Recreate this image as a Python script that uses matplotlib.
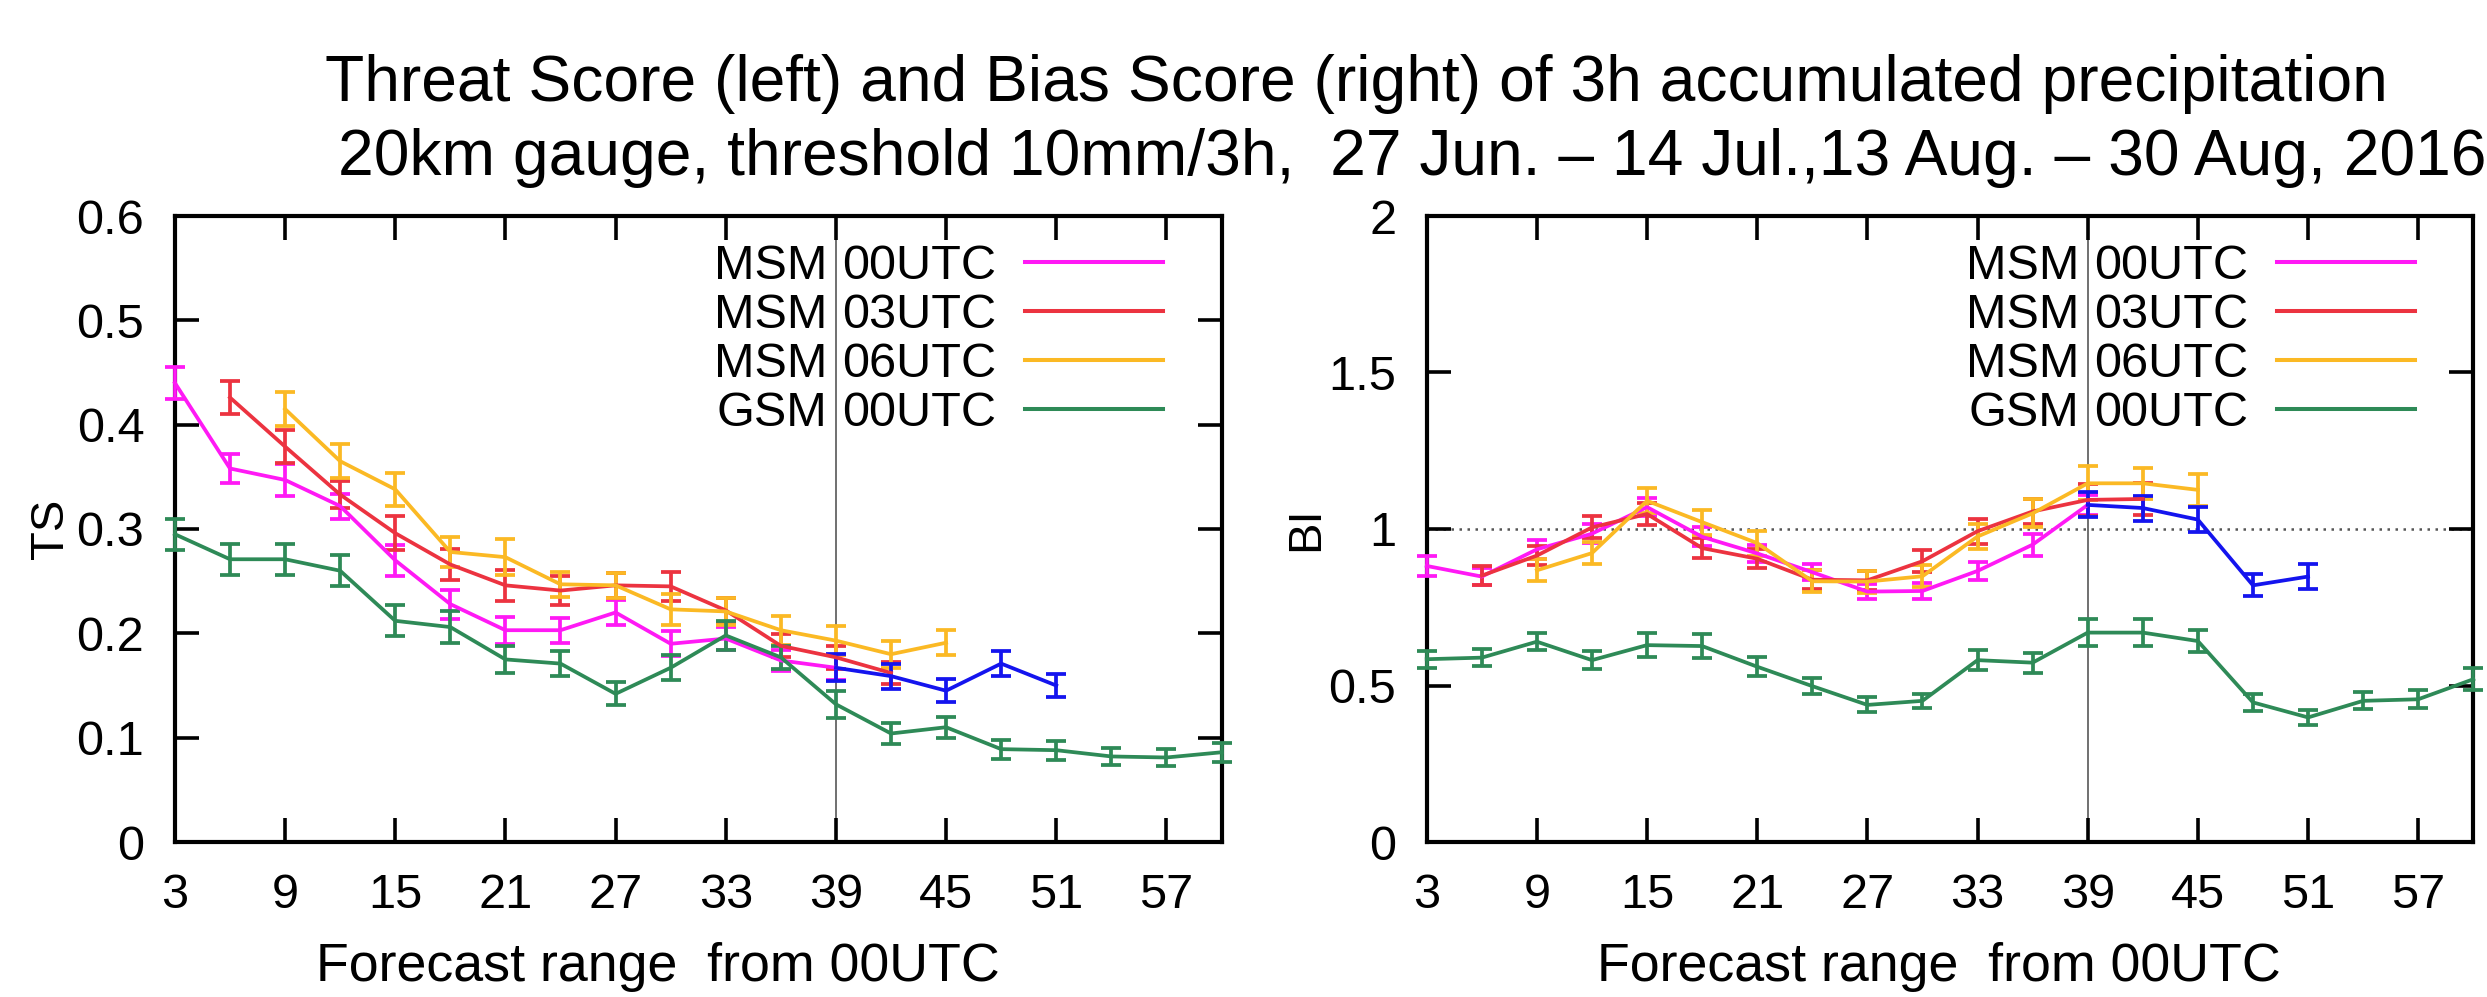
import matplotlib
matplotlib.use("Agg")
import matplotlib.pyplot as plt
import matplotlib.transforms as mtransforms

plt.rcParams['font.family'] = ['Liberation Sans', 'DejaVu Sans']

# ---------------- data ----------------
hours_msm00 = [3, 6, 9, 12, 15, 18, 21, 24, 27, 30, 33, 36, 39]
hours_msm03 = [6, 9, 12, 15, 18, 21, 24, 27, 30, 33, 36, 39, 42]
hours_msm06 = [9, 12, 15, 18, 21, 24, 27, 30, 33, 36, 39, 42, 45]
hours_ext = [39, 42, 45, 48, 51]
hours_gsm = [3, 6, 9, 12, 15, 18, 21, 24, 27, 30, 33, 36, 39, 42, 45, 48, 51, 54, 57, 60]

# Threat score (left)
ts_msm00 = [0.440, 0.358, 0.347, 0.322, 0.270, 0.228, 0.203, 0.203, 0.220, 0.190, 0.195, 0.174, 0.167]
ts_msm00_err = [0.015, 0.014, 0.015, 0.012, 0.015, 0.014, 0.013, 0.012, 0.012, 0.012, 0.011, 0.010, 0.012]
ts_msm03 = [0.426, 0.379, 0.333, 0.296, 0.266, 0.246, 0.241, 0.246, 0.245, 0.222, 0.188, 0.177, 0.162]
ts_msm03_err = [0.016, 0.016, 0.013, 0.016, 0.015, 0.015, 0.014, 0.012, 0.014, 0.012, 0.011, 0.011, 0.011]
ts_msm06 = [0.415, 0.365, 0.338, 0.278, 0.273, 0.247, 0.246, 0.223, 0.221, 0.203, 0.193, 0.180, 0.191]
ts_msm06_err = [0.016, 0.016, 0.016, 0.014, 0.017, 0.012, 0.012, 0.015, 0.013, 0.014, 0.014, 0.013, 0.012]
ts_ext = [0.167, 0.159, 0.145, 0.171, 0.150]
ts_ext_err = [0.013, 0.012, 0.011, 0.012, 0.011]
ts_gsm = [0.295, 0.271, 0.271, 0.260, 0.212, 0.206, 0.175, 0.171, 0.142, 0.167,
          0.198, 0.177, 0.132, 0.104, 0.110, 0.089, 0.088, 0.082, 0.081, 0.086]
ts_gsm_err = [0.015, 0.015, 0.015, 0.015, 0.015, 0.015, 0.013, 0.012, 0.011, 0.012,
              0.014, 0.011, 0.013, 0.010, 0.010, 0.009, 0.009, 0.008, 0.008, 0.009]

# Bias score (right)
bi_msm00 = [0.882, 0.848, 0.935, 0.985, 1.070, 0.975, 0.922, 0.862, 0.800, 0.802, 0.866, 0.950, 1.077]
bi_msm00_err = [0.032, 0.028, 0.030, 0.030, 0.030, 0.030, 0.028, 0.026, 0.025, 0.025, 0.030, 0.035, 0.032]
bi_msm03 = [0.851, 0.915, 1.005, 1.048, 0.939, 0.905, 0.838, 0.836, 0.897, 0.993, 1.056, 1.093, 1.096]
bi_msm03_err = [0.030, 0.030, 0.035, 0.035, 0.032, 0.030, 0.030, 0.030, 0.035, 0.040, 0.040, 0.050, 0.050]
bi_msm06 = [0.868, 0.923, 1.090, 1.022, 0.955, 0.833, 0.832, 0.849, 0.976, 1.050, 1.146, 1.146, 1.125]
bi_msm06_err = [0.035, 0.035, 0.040, 0.040, 0.040, 0.035, 0.035, 0.035, 0.040, 0.045, 0.054, 0.050, 0.050]
bi_ext = [1.077, 1.067, 1.030, 0.820, 0.848]
bi_ext_err = [0.040, 0.040, 0.040, 0.035, 0.040]
bi_gsm = [0.584, 0.589, 0.640, 0.581, 0.629, 0.626, 0.560, 0.498, 0.438, 0.451,
          0.581, 0.573, 0.669, 0.669, 0.642, 0.446, 0.398, 0.451, 0.456, 0.520]
bi_gsm_err = [0.027, 0.027, 0.028, 0.028, 0.038, 0.037, 0.031, 0.025, 0.024, 0.022,
              0.033, 0.032, 0.042, 0.042, 0.036, 0.028, 0.024, 0.027, 0.029, 0.035]

legend_left = ["MSM", "MSM", "MSM", "GSM"]
legend_right = ["00UTC", "03UTC", "06UTC", "00UTC"]
x_ticks = [3, 9, 15, 21, 27, 33, 39, 45, 51, 57]

title1 = "Threat Score (left) and Bias Score (right) of 3h accumulated precipitation"
title2 = "20km gauge, threshold 10mm/3h,  27 Jun. \u2013 14 Jul.,13 Aug. \u2013 30 Aug, 2016"
xlabel_text = "Forecast range  from 00UTC"

# ---------------- style ----------------
C_MAG = "#ff19f5"
C_RED = "#ec3340"
C_YEL = "#fbb924"
C_GRN = "#2e8a57"
C_BLU = "#1414ee"
LEG_COLORS = [C_MAG, C_RED, C_YEL, C_GRN]

W, H = 2487, 997
fig = plt.figure(figsize=(W / 100, H / 100), dpi=100)

ax_w = 1046.6 / W
ax_h = 626 / H
ax_b = 1 - 842 / H
ax1 = fig.add_axes([174.9 / W, ax_b, ax_w, ax_h])
ax2 = fig.add_axes([1426.7 / W, ax_b, ax_w, ax_h])

LW = 2.7


def eb(ax, x, y, e, c):
    cont = ax.errorbar(x, y, yerr=e, color=c, lw=LW, elinewidth=LW,
                       capsize=7.5, capthick=LW, zorder=3)
    line, caps, bars = cont.lines
    line.set_clip_on(False)
    for cp in caps:
        cp.set_clip_on(False)
    for b in bars:
        b.set_clip_on(False)


def setup(ax, ymax, yticks, ylab, ylab_x):
    ax.set_xlim(3, 60)
    ax.set_ylim(0, ymax)
    ax.set_xticks(x_ticks)
    ax.set_yticks(yticks)
    ax.set_yticklabels([("%g" % v) for v in yticks])
    ax.tick_params(axis='both', which='major', direction='in', length=17, width=2.6,
                   labelsize=35, pad=22, top=True, right=True, colors='black')
    for s in ax.spines.values():
        s.set_linewidth(3.0)
    ax.axvline(39, color='#707070', lw=1.4, zorder=1)
    ax.set_ylabel(ylab, fontsize=34, labelpad=0)
    ax.yaxis.set_label_coords(ylab_x, 0.5)
    trans = mtransforms.blended_transform_factory(ax.transData, ax.transAxes)
    for i in range(4):
        yr = 0.926 - i * 0.0783
        ax.text(38.55, yr - 0.027, legend_left[i], transform=trans, ha='right',
                va='baseline', fontsize=35)
        ax.text(39.35, yr - 0.027, legend_right[i], transform=trans, ha='left',
                va='baseline', fontsize=35)
        ax.plot([49.3, 56.8], [yr, yr], transform=trans, color=LEG_COLORS[i], lw=2.9)


setup(ax1, 0.6, [0, 0.1, 0.2, 0.3, 0.4, 0.5, 0.6], "TS", -0.097)
setup(ax2, 2.0, [0, 0.5, 1, 1.5, 2], "BI", -0.094)
ax2.axhline(1.0, color='#555555', lw=1.8, ls=(0, (1, 2.2)), zorder=1)

eb(ax1, hours_msm00, ts_msm00, ts_msm00_err, C_MAG)
eb(ax1, hours_msm03, ts_msm03, ts_msm03_err, C_RED)
eb(ax1, hours_msm06, ts_msm06, ts_msm06_err, C_YEL)
eb(ax1, hours_gsm, ts_gsm, ts_gsm_err, C_GRN)
eb(ax1, hours_ext, ts_ext, ts_ext_err, C_BLU)

eb(ax2, hours_msm00, bi_msm00, bi_msm00_err, C_MAG)
eb(ax2, hours_msm03, bi_msm03, bi_msm03_err, C_RED)
eb(ax2, hours_msm06, bi_msm06, bi_msm06_err, C_YEL)
eb(ax2, hours_gsm, bi_gsm, bi_gsm_err, C_GRN)
eb(ax2, hours_ext, bi_ext, bi_ext_err, C_BLU)

# titles and x labels (sizes fitted to target widths)
t1 = fig.text(325 / W, 1 - 101 / H, title1, ha='left', va='baseline', fontsize=46)
t2 = fig.text(338 / W, 1 - 175 / H, title2, ha='left', va='baseline', fontsize=46)
xl1 = fig.text(657.7 / W, 1 - 981 / H, xlabel_text, ha='center', va='baseline', fontsize=36)
xl2 = fig.text(1939 / W, 1 - 981 / H, xlabel_text, ha='center', va='baseline', fontsize=36)

fig.canvas.draw()
r = fig.canvas.get_renderer()


def fit(t, target):
    w = t.get_window_extent(r).width
    t.set_fontsize(t.get_fontsize() * target / w)


fit(t1, 2058)
t2.set_fontsize(t1.get_fontsize())
fit(xl1, 684)
xl2.set_fontsize(xl1.get_fontsize())

fig.savefig("out.png", dpi=100)
